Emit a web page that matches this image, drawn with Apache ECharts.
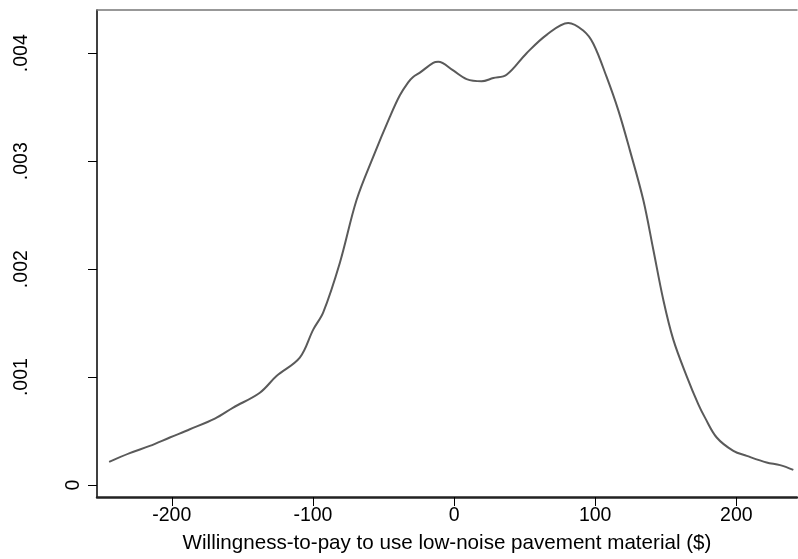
<!DOCTYPE html>
<html>
<head>
<meta charset="utf-8">
<script src="https://cdn.jsdelivr.net/npm/echarts@6/dist/echarts.min.js"></script>
<style>
  html, body { margin: 0; padding: 0; background: #fff; }
  #chart { width: 798px; height: 559px; }
</style>
</head>
<body>
<div id="chart"></div>
<script>
// Kernel density estimate of willingness-to-pay
const wtp = [-244.4, -229.8, -215.6, -201.4, -187.2, -169.5, -156.5, -137.6, -125.8, -109.3,
  -99.8, -92.7, -80.9, -69.1, -57.3, -45.5, -38.4, -32.5, -29.0, -24.2,
  -14.8, -11.2, -0.6, 8.9, 19.5, 27.8, 37.2, 51.4, 65.6, 80.9,
  91.5, 98.6, 108.1, 116.4, 124.6, 134.1, 141.2, 148.2, 155.3, 164.8,
  173.1, 177.8, 186.1, 197.9, 207.4, 221.5, 231.0, 240.4];
const density = [0.000215, 0.000296, 0.000363, 0.000441, 0.000517, 0.000616, 0.000718, 0.000856, 0.00101, 0.00118,
  0.00144, 0.00160, 0.00206, 0.00264, 0.00304, 0.00341, 0.00361, 0.00373, 0.00378, 0.00382,
  0.00391, 0.00392, 0.00384, 0.00376, 0.00374, 0.00377, 0.00380, 0.00400, 0.00417, 0.00428,
  0.00421, 0.00409, 0.00378, 0.00347, 0.00310, 0.00264, 0.00218, 0.00172, 0.00135, 0.00101,
  0.000748, 0.000625, 0.000441, 0.000317, 0.000271, 0.000210, 0.000185, 0.000141];

const xTicks = [-200, -100, 0, 100, 200];
const yTicks = [0, 0.001, 0.002, 0.003, 0.004];
const xTitle = 'Willingness-to-pay to use low-noise pavement material ($)';

const fmtY = v => v === 0 ? '0' : v.toFixed(3).replace(/^0/, '');

const chart = echarts.init(document.getElementById('chart'), null, { renderer: 'canvas' });
const font = 'Liberation Sans, Arial, sans-serif';
const yMin = -0.00011, yMax = 0.0044;

chart.setOption({
  animation: false,
  backgroundColor: '#fff',
  grid: { left: 97, right: 1, top: 10, bottom: 61, containLabel: false },
  xAxis: [{
    type: 'value',
    min: -253,
    max: 243,
    position: 'bottom',
    name: xTitle,
    nameLocation: 'middle',
    nameGap: 36,
    nameTextStyle: { color: '#000', fontSize: 20.6, fontFamily: font },
    axisLine: { show: true, onZero: false, lineStyle: { color: '#222', width: 2.5 } },
    axisTick: { show: true, length: 9, customValues: xTicks, lineStyle: { color: '#000', width: 1 } },
    axisLabel: { customValues: xTicks, margin: 9, color: '#000', fontSize: 19.5, fontFamily: font },
    splitLine: { show: false }
  }, {
    type: 'value',
    min: -253,
    max: 243,
    position: 'top',
    axisLine: { show: true, onZero: false, lineStyle: { color: '#777', width: 1.5 } },
    axisTick: { show: false },
    axisLabel: { show: false },
    splitLine: { show: false }
  }],
  yAxis: [{
    type: 'value',
    min: yMin,
    max: yMax,
    position: 'left',
    axisLine: { show: true, onZero: false, lineStyle: { color: '#000', width: 1.5 } },
    axisTick: { show: true, length: 9, customValues: yTicks, lineStyle: { color: '#000', width: 1 } },
    axisLabel: {
      customValues: yTicks.slice(1),
      rotate: 90,
      margin: 65,
      color: '#000',
      fontSize: 19.5,
      fontFamily: font,
      formatter: fmtY
    },
    splitLine: { show: false }
  }, {
    // the zero label sits closer to the axis
    type: 'value',
    min: yMin,
    max: yMax,
    position: 'left',
    axisLine: { show: false },
    axisTick: { show: false },
    axisLabel: {
      customValues: yTicks.slice(0, 1),
      rotate: 90,
      margin: 13,
      color: '#000',
      fontSize: 19.5,
      fontFamily: font,
      formatter: fmtY
    },
    splitLine: { show: false }
  }],
  series: [{
    type: 'line',
    xAxisIndex: 0,
    yAxisIndex: 0,
    data: wtp.map((x, i) => [x, density[i]]),
    smooth: 0.35,
    showSymbol: false,
    lineStyle: { color: '#5a5a5a', width: 2 }
  }]
});
</script>
</body>
</html>
